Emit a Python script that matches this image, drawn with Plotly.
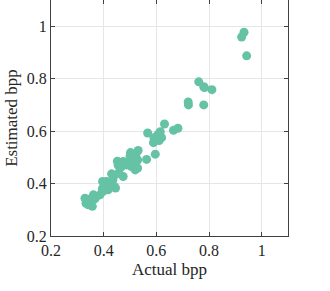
import plotly.graph_objects as go

actual = [0.933, 0.924, 0.943, 0.761, 0.780, 0.783, 0.811, 0.721, 0.722, 0.780,
          0.631, 0.682, 0.665, 0.567, 0.611, 0.620, 0.591, 0.601, 0.589, 0.611,
          0.596, 0.563, 0.531, 0.502, 0.522, 0.529, 0.512, 0.493, 0.529, 0.520,
          0.487, 0.474, 0.452, 0.462, 0.474, 0.458, 0.443, 0.430, 0.445, 0.440,
          0.411, 0.396, 0.404, 0.417, 0.398, 0.386, 0.373, 0.361, 0.354, 0.342,
          0.333, 0.329, 0.342, 0.357, 0.367, 0.424, 0.435, 0.615, 0.605, 0.500,
          0.515, 0.455, 0.468, 0.480, 0.410, 0.420, 0.338, 0.350, 0.395, 0.505]
estimated = [0.977, 0.959, 0.887, 0.788, 0.769, 0.766, 0.758, 0.711, 0.700, 0.700,
             0.627, 0.611, 0.603, 0.593, 0.592, 0.575, 0.575, 0.566, 0.556, 0.564,
             0.512, 0.492, 0.526, 0.518, 0.509, 0.490, 0.481, 0.478, 0.459, 0.452,
             0.471, 0.484, 0.485, 0.459, 0.427, 0.440, 0.433, 0.437, 0.383, 0.389,
             0.408, 0.408, 0.389, 0.376, 0.370, 0.357, 0.351, 0.357, 0.344, 0.338,
             0.325, 0.344, 0.319, 0.313, 0.342, 0.404, 0.414, 0.598, 0.585, 0.505,
             0.495, 0.470, 0.465, 0.476, 0.395, 0.385, 0.330, 0.335, 0.380, 0.465]
ticks = [0.2, 0.4, 0.6, 0.8, 1.0]
tick_text = ["0.2", "0.4", "0.6", "0.8", "1"]

family = "Liberation Serif, DejaVu Serif, serif"
tick_font = dict(family=family, size=16, color="#262626")
title_font = dict(family=family, size=17, color="#262626")

fig = go.Figure(go.Scatter(
    x=actual, y=estimated, mode="markers",
    marker=dict(color="#66c2a5", size=9, line=dict(width=0)),
))

axis_common = dict(
    range=[0.2, 1.1], tickvals=ticks, ticktext=tick_text,
    showgrid=True, gridcolor="#e6e6e6", gridwidth=1,
    showline=True, linecolor="#404040", linewidth=1, mirror="ticks",
    ticks="inside", ticklen=4, tickcolor="#404040",
    zeroline=False, tickfont=tick_font, automargin=False,
)
fig.update_layout(
    width=330, height=291,
    margin=dict(l=51, r=42, t=0, b=55),
    plot_bgcolor="white", paper_bgcolor="white",
    showlegend=False,
    font=tick_font,
    xaxis=dict(axis_common, title=dict(text="Actual bpp", font=title_font, standoff=4)),
    yaxis=dict(axis_common, title=dict(text="Estimated bpp", font=title_font, standoff=4)),
)
fig.write_html("out.html", config={"displayModeBar": False},
               post_script="document.body.style.margin='0';")
